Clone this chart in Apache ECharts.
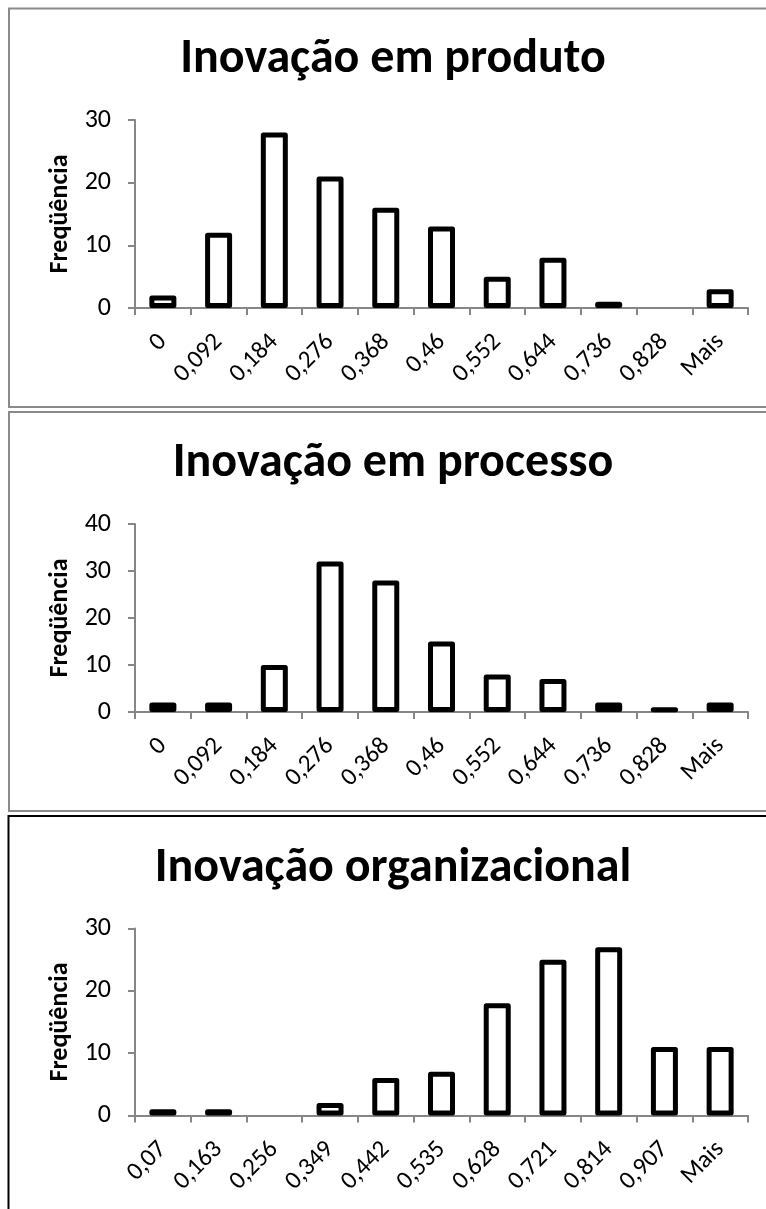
<!DOCTYPE html>
<html>
<head>
<meta charset="utf-8">
<script src="https://cdn.jsdelivr.net/npm/echarts@6/dist/echarts.min.js"></script>
<style>
html,body{margin:0;padding:0;background:#fff;}
#chart{width:766px;height:1209px;}
</style>
</head>
<body>
<div id="chart"></div>
<script>
// ---- data ----
const titles = ['Inovação em produto', 'Inovação em processo', 'Inovação organizacional'];
const yAxisName = 'Freqüência';
const categoriesProduto = ['0', '0,092', '0,184', '0,276', '0,368', '0,46', '0,552', '0,644', '0,736', '0,828', 'Mais'];
const categoriesProcesso = ['0', '0,092', '0,184', '0,276', '0,368', '0,46', '0,552', '0,644', '0,736', '0,828', 'Mais'];
const categoriesOrganizacional = ['0,07', '0,163', '0,256', '0,349', '0,442', '0,535', '0,628', '0,721', '0,814', '0,907', 'Mais'];
const freqProduto = [2, 12, 28, 21, 16, 13, 5, 8, 1, 0, 3];
const freqProcesso = [2, 2, 10, 32, 28, 15, 8, 7, 2, 1, 2];
const freqOrganizacional = [1, 1, 0, 2, 6, 7, 18, 25, 27, 11, 11];
const yMaxes = [30, 40, 30];
const yInterval = 10;

// ---- layout ----
const FONT = 'Carlito, Calibri, Lato, sans-serif';
const panels = [
  { cats: categoriesProduto, vals: freqProduto, box: [9, 8.5, 800, 398.5], boxColor: '#8a8a8a', titleY: 36, grid: { left: 135, top: 120, width: 613, height: 188 } },
  { cats: categoriesProcesso, vals: freqProcesso, box: [9, 412, 800, 399], boxColor: '#8a8a8a', titleY: 440, grid: { left: 135, top: 524, width: 613, height: 188 } },
  { cats: categoriesOrganizacional, vals: freqOrganizacional, box: [8.5, 816, 800, 450], boxColor: '#000', titleY: 845, grid: { left: 135, top: 928.5, width: 613, height: 187 } }
];

const axisGray = '#868686';
const option = {
  animation: false,
  backgroundColor: '#fff',
  title: [], grid: [], xAxis: [], yAxis: [], series: [],
  graphic: []
};

panels.forEach((p, i) => {
  option.graphic.push({
    type: 'rect', silent: true, z: -1,
    shape: { x: p.box[0], y: p.box[1], width: p.box[2], height: p.box[3] },
    style: { fill: '#fff', stroke: p.boxColor, lineWidth: 2 }
  });
  option.title.push({
    text: titles[i], left: 393, top: p.titleY, textAlign: 'center', padding: 0,
    textStyle: { fontFamily: FONT, fontWeight: 'bold', fontSize: 48, color: '#000' }
  });
  option.grid.push(Object.assign({ containLabel: false }, p.grid));
  option.xAxis.push({
    type: 'category', gridIndex: i, data: p.cats,
    axisLine: { show: true, lineStyle: { color: axisGray, width: 2 } },
    axisTick: { show: true, length: 7, lineStyle: { color: axisGray, width: 2 } },
    axisLabel: { rotate: 45, interval: 0, margin: 30, color: '#000', fontFamily: FONT, fontSize: 25 },
    splitLine: { show: false }
  });
  option.yAxis.push({
    type: 'value', gridIndex: i, min: 0, max: yMaxes[i], interval: yInterval,
    name: yAxisName, nameLocation: 'middle', nameRotate: 90, nameGap: 60,
    nameTextStyle: { fontFamily: FONT, fontWeight: 'bold', fontSize: 26, color: '#000' },
    axisLine: { show: true, lineStyle: { color: axisGray, width: 2 } },
    axisTick: { show: true, length: 7, lineStyle: { color: axisGray, width: 2 } },
    axisLabel: { margin: 24, color: '#000', fontFamily: FONT, fontSize: 26 },
    splitLine: { show: false }
  });
  option.series.push({
    type: 'bar', xAxisIndex: i, yAxisIndex: i, barWidth: 27,
    itemStyle: { color: '#fff', borderColor: '#000', borderWidth: 5, borderJoin: 'round' },
    data: p.vals.map(v => v === 0 ? { value: v, itemStyle: { borderWidth: 0 } } : v)
  });
});

const chart = echarts.init(document.getElementById('chart'), null, { renderer: 'canvas' });
chart.setOption(option);
</script>
</body>
</html>
